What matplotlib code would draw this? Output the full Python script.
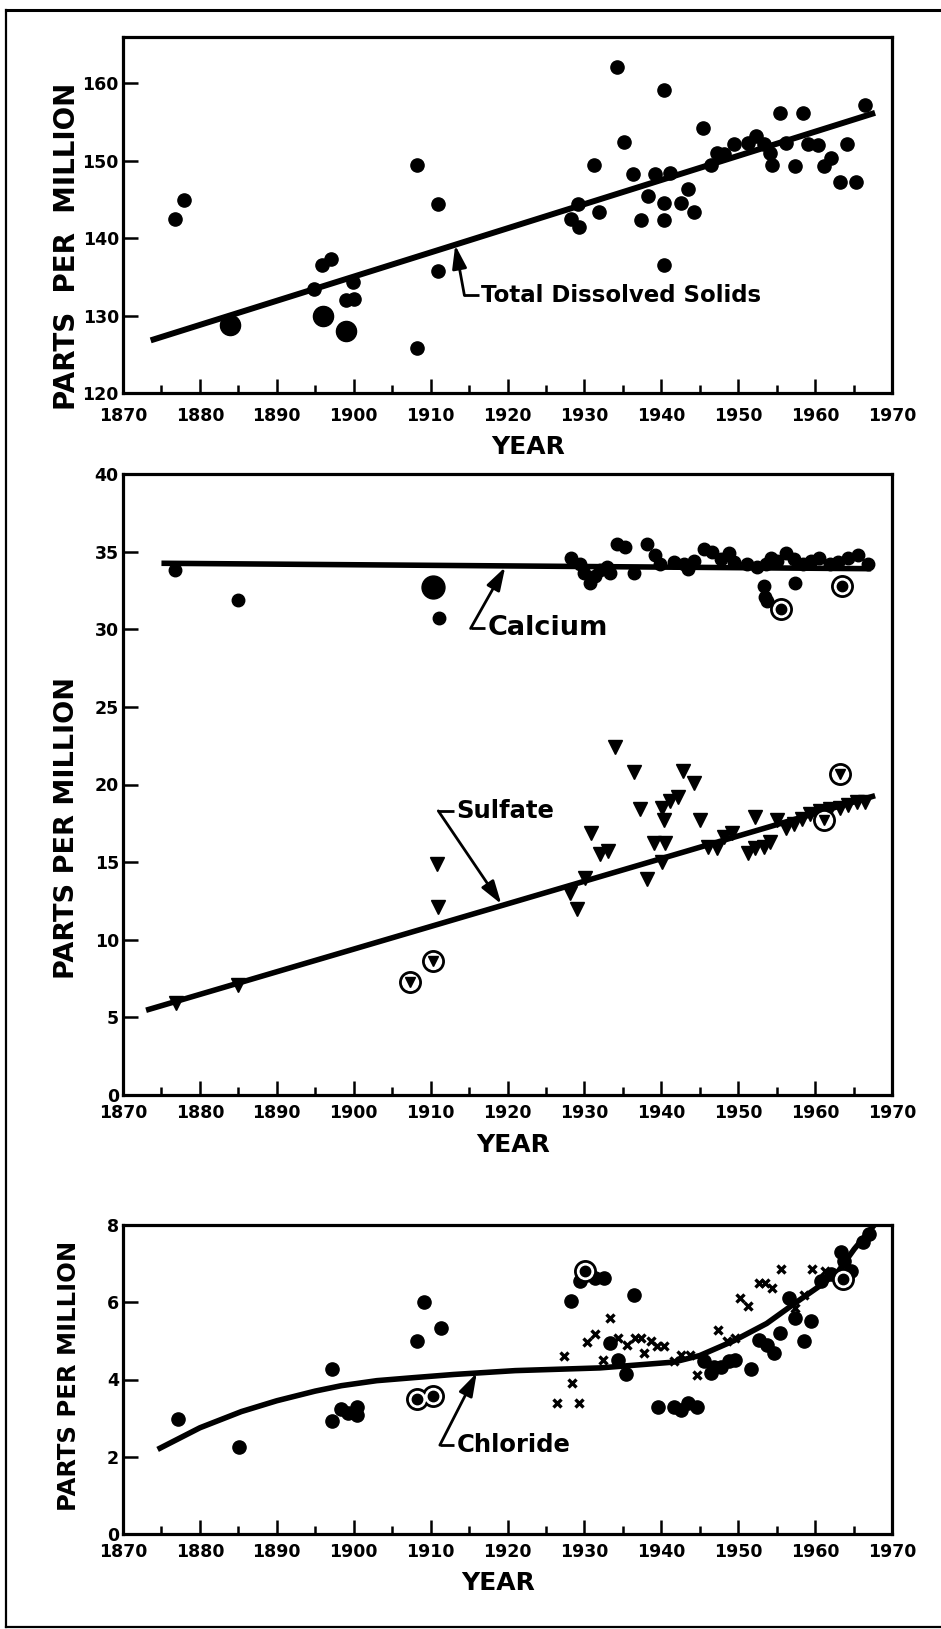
import matplotlib
matplotlib.use('Agg')
import matplotlib.pyplot as plt
from matplotlib.lines import Line2D
from matplotlib.ticker import MultipleLocator

plt.rcParams['font.family'] = ['DejaVu Sans']
plt.rcParams['font.weight'] = 'bold'

# ---------------- data ----------------
# Total dissolved solids
tds_years = [1876.7, 1877.9, 1894.9, 1895.9, 1897.0, 1899.9, 1899.0, 1900.1, 1908.2, 1908.2,
             1911.0, 1911.0, 1928.2, 1929.2, 1929.3, 1931.3, 1931.9, 1934.2, 1935.2, 1936.3,
             1937.4, 1938.3, 1939.2, 1940.3, 1940.3, 1940.3, 1940.3, 1941.1, 1942.5, 1943.5,
             1944.3, 1945.4, 1946.4, 1947.2, 1948.2, 1949.4, 1951.3, 1952.3, 1953.4, 1954.2,
             1954.4, 1955.4, 1956.2, 1957.4, 1958.4, 1959.1, 1960.4, 1961.1, 1962.1, 1963.2,
             1964.2, 1965.3, 1966.5]
tds_values = [142.5, 145.0, 133.5, 136.5, 137.3, 134.4, 132.0, 132.1, 149.5, 125.8,
              144.4, 135.7, 142.5, 144.4, 141.5, 149.4, 143.4, 162.1, 152.4, 148.3,
              142.4, 145.5, 148.3, 159.1, 144.6, 142.4, 136.5, 148.4, 144.5, 146.3,
              143.4, 154.3, 149.5, 151.0, 150.9, 152.2, 152.3, 153.2, 152.2, 151.0,
              149.4, 156.2, 152.3, 149.3, 156.2, 152.2, 152.0, 149.3, 150.4, 147.3,
              152.2, 147.3, 157.2]
tds_big_years = [1883.9, 1896.0, 1899.0]
tds_big_values = [128.8, 129.9, 128.0]
tds_fit_years = [1873.6, 1967.8]
tds_fit_values = [126.8, 156.2]

# Calcium
ca_years = [1876.7, 1884.9, 1911.1, 1928.3, 1929.4, 1930.0, 1930.7, 1931.4, 1932.0, 1932.9,
            1933.3, 1934.2, 1935.3, 1936.5, 1938.1, 1939.2, 1939.8, 1941.6, 1942.9, 1943.5,
            1944.2, 1945.5, 1946.6, 1947.7, 1948.8, 1949.4, 1951.2, 1952.5, 1953.6, 1954.3,
            1955.1, 1956.2, 1957.3, 1958.4, 1959.5, 1960.5, 1961.9, 1963.0, 1964.3, 1965.6,
            1966.9, 1953.3, 1953.5, 1953.8, 1957.4]
ca_values = [33.8, 31.9, 30.7, 34.6, 34.2, 33.6, 33.0, 33.4, 33.8, 34.0,
             33.6, 35.5, 35.3, 33.6, 35.5, 34.8, 34.2, 34.3, 34.2, 33.9,
             34.4, 35.2, 35.0, 34.5, 34.9, 34.3, 34.2, 34.0, 34.2, 34.6,
             34.4, 34.9, 34.5, 34.2, 34.4, 34.6, 34.2, 34.3, 34.6, 34.8,
             34.2, 32.8, 32.1, 31.8, 33.0]
ca_big_years = [1910.3]
ca_big_values = [32.75]
ca_circled_years = [1955.6, 1963.5]
ca_circled_values = [31.3, 32.8]
ca_fit_years = [1875.0, 1967.3]
ca_fit_values = [34.25, 33.9]

# Sulfate
so4_years = [1876.9, 1884.9, 1910.8, 1910.9, 1928.1, 1929.1, 1930.1, 1930.9, 1932.0, 1933.1,
             1934.0, 1936.4, 1937.2, 1938.1, 1939.1, 1940.1, 1940.3, 1940.5, 1940.1, 1941.1,
             1942.2, 1942.8, 1944.3, 1945.0, 1946.1, 1947.2, 1948.1, 1949.2, 1951.3, 1952.2,
             1952.2, 1953.3, 1954.2, 1955.1, 1956.2, 1957.2, 1958.3, 1959.4, 1960.7, 1961.9,
             1963.2, 1964.3, 1965.4, 1966.5]
so4_values = [5.95, 7.1, 14.9, 12.1, 13.0, 11.97, 14.0, 16.85, 15.5, 15.7,
              22.4, 20.8, 18.4, 13.9, 16.2, 18.5, 17.7, 16.2, 15.0, 18.95,
              19.2, 20.9, 20.1, 17.7, 16.0, 15.9, 16.65, 16.9, 15.6, 17.9,
              15.9, 16.0, 16.3, 17.7, 17.2, 17.45, 17.8, 18.1, 18.3, 18.4,
              18.5, 18.7, 18.85, 18.85]
so4_circled_years = [1907.3, 1910.3, 1961.2, 1963.2]
so4_circled_values = [7.25, 8.6, 17.7, 20.7]
so4_fit_years = [1873.0, 1967.8]
so4_fit_values = [5.46, 19.28]

# Chloride
cl_dot_years = [1877.1, 1885.1, 1897.2, 1897.2, 1898.4, 1899.3, 1900.4, 1900.4, 1908.2, 1909.2,
                1911.3, 1928.3, 1929.4, 1931.4, 1932.5, 1933.3, 1934.4, 1935.4, 1936.4, 1939.6,
                1941.6, 1942.6, 1943.5, 1944.6, 1945.5, 1946.4, 1946.8, 1947.7, 1948.8, 1949.6,
                1951.6, 1952.7, 1953.8, 1954.6, 1955.5, 1956.6, 1957.4, 1958.6, 1959.5, 1960.8,
                1962.1, 1963.4, 1963.8, 1964.7, 1966.2, 1967.0]
cl_dot_values = [2.97, 2.26, 4.28, 2.92, 3.23, 3.12, 3.30, 3.08, 4.99, 6.00,
                 5.33, 6.03, 6.55, 6.64, 6.64, 4.95, 4.51, 4.14, 6.18, 3.30,
                 3.28, 3.22, 3.39, 3.30, 4.47, 4.16, 4.33, 4.33, 4.47, 4.51,
                 4.27, 5.03, 4.90, 4.69, 5.21, 6.12, 5.60, 4.99, 5.51, 6.55,
                 6.72, 7.29, 7.07, 6.81, 7.55, 7.77]
cl_circled_years = [1908.2, 1910.3, 1930.1, 1963.6]
cl_circled_values = [3.49, 3.58, 6.81, 6.60]
cl_x_years = [1927.3, 1928.4, 1926.4, 1929.3, 1930.3, 1931.4, 1933.3, 1932.4, 1934.4, 1935.5,
              1936.6, 1937.4, 1937.7, 1938.6, 1939.4, 1940.3, 1941.6, 1942.6, 1943.7, 1944.6,
              1947.4, 1948.5, 1949.6, 1950.2, 1951.3, 1952.7, 1953.5, 1954.4, 1955.6, 1957.4,
              1958.5, 1959.6, 1961.3]
cl_x_values = [4.60, 3.91, 3.40, 3.40, 4.96, 5.17, 5.60, 4.51, 5.08, 4.90,
               5.08, 5.08, 4.69, 4.99, 4.86, 4.86, 4.47, 4.64, 4.64, 4.12,
               5.29, 4.99, 5.08, 6.12, 5.90, 6.51, 6.49, 6.38, 6.87, 5.86,
               6.18, 6.87, 6.81]
cl_fit_years = [1874.5, 1880.0, 1885.4, 1890.0, 1895.0, 1898.4, 1903.0, 1907.9, 1913.0, 1921.0,
                1932.0, 1941.6, 1945.0, 1949.4, 1953.7, 1957.2, 1960.3, 1962.9, 1965.1, 1967.7]
cl_fit_values = [2.19, 2.75, 3.17, 3.45, 3.70, 3.84, 3.97, 4.05, 4.13, 4.23,
                 4.30, 4.45, 4.62, 5.00, 5.45, 5.95, 6.38, 6.77, 7.38, 8.00]

year_ticks = list(range(1870, 1971, 10))

# ---------------- figure ----------------
W, H = 941, 1629
fig = plt.figure(figsize=(W / 100, H / 100), dpi=100)


def box(x0, y0, x1, y1):
    return [x0 / W, 1 - y1 / H, (x1 - x0) / W, (y1 - y0) / H]


def style(ax, ylim, ystep, xpad):
    ax.set_xlim(1870, 1970)
    ax.set_ylim(*ylim)
    ax.xaxis.set_major_locator(MultipleLocator(10))
    ax.xaxis.set_minor_locator(MultipleLocator(5))
    ax.yaxis.set_major_locator(MultipleLocator(ystep))
    for s in ax.spines.values():
        s.set_linewidth(2.3)
    ax.tick_params(axis='both', which='both', direction='in', width=1.8,
                   labelsize=12.5, colors='black')
    ax.tick_params(axis='x', which='major', length=10, pad=xpad)
    ax.tick_params(axis='x', which='minor', length=6)
    ax.tick_params(axis='y', which='major', length=11, pad=3)


def circled(ax, xs, ys, inner_marker, inner_ms):
    ax.plot(xs, ys, 'o', ms=15.5, color='black', zorder=4)
    ax.plot(xs, ys, 'o', ms=11.5, color='white', zorder=5)
    ax.plot(xs, ys, inner_marker, ms=inner_ms, color='black', zorder=6)


def leader(ax, text, fs, text_xy, corner_xy, tip_xy):
    ax.text(text_xy[0], text_xy[1], text, ha='left', va='center',
            fontsize=fs, fontweight='bold', zorder=7)
    ax.plot([corner_xy[0], text_xy[0] - 0.3], [corner_xy[1], corner_xy[1]],
            color='black', lw=2.0, solid_capstyle='butt', zorder=7)
    ax.annotate('', xy=tip_xy, xytext=corner_xy,
                arrowprops=dict(arrowstyle='-|>,head_length=0.7,head_width=0.22',
                                lw=2.0, color='black', shrinkA=0, shrinkB=0,
                                mutation_scale=20), zorder=7)


# Panel 1: total dissolved solids
ax1 = fig.add_axes(box(123, 37, 892, 393))
style(ax1, (120, 166), 10, 10)
ax1.plot(tds_fit_years, tds_fit_values, color='black', lw=4.3, solid_capstyle='butt', zorder=2)
ax1.plot(tds_years, tds_values, 'o', ms=9.5, color='black', zorder=3)
ax1.plot(tds_big_years, tds_big_values, 'o', ms=14.5, color='black', zorder=3)
ax1.set_yticks([120, 130, 140, 150, 160])
leader(ax1, 'Total Dissolved Solids', 16.5, (1916.6, 132.6), (1914.4, 132.6), (1913.2, 139.1))

# Panel 2: calcium and sulfate
ax2 = fig.add_axes(box(123, 474, 892, 1095))
style(ax2, (0, 40), 5, 6.5)
ax2.plot(ca_fit_years, ca_fit_values, color='black', lw=4.0, solid_capstyle='butt', zorder=2)
ax2.plot(ca_years, ca_values, 'o', ms=9.0, color='black', zorder=3)
ax2.plot(ca_big_years, ca_big_values, 'o', ms=16.5, color='black', zorder=3)
circled(ax2, ca_circled_years, ca_circled_values, 'o', 7.5)
ax2.plot(so4_fit_years, so4_fit_values, color='black', lw=4.0, solid_capstyle='butt', zorder=2)
ax2.plot(so4_years, so4_values, 'v', ms=9.5, color='black', zorder=3)
circled(ax2, so4_circled_years, so4_circled_values, 'v', 7.5)
leader(ax2, 'Calcium', 19.5, (1917.4, 30.05), (1915.2, 30.05), (1919.7, 34.0))
leader(ax2, 'Sulfate', 17.5, (1913.4, 18.3), (1911.0, 18.3), (1919.2, 12.3))

# Panel 3: chloride
ax3 = fig.add_axes(box(123, 1225, 892, 1534))
style(ax3, (0, 8), 2, 6.5)
ax3.plot(cl_fit_years, cl_fit_values, color='black', lw=4.0, solid_joinstyle='round',
         solid_capstyle='butt', zorder=2, clip_on=True)
ax3.plot(cl_dot_years, cl_dot_values, 'o', ms=9.5, color='black', zorder=3)
ax3.plot(cl_x_years, cl_x_values, 'x', ms=5.5, mew=2.4, color='black', zorder=3)
circled(ax3, cl_circled_years, cl_circled_values, 'o', 7.5)
leader(ax3, 'Chloride', 17.5, (1913.4, 2.3), (1911.2, 2.3), (1916.0, 4.17))

for ax in (ax1, ax2, ax3):
    ax.set_xticks(year_ticks)
    ax.set_xticklabels([str(y) for y in year_ticks], fontweight='bold', fontsize=12.5)
    for lab in ax.get_yticklabels():
        lab.set_fontweight('bold')

# axis titles
fig.text(67.5 / W, 1 - 246.5 / H, 'PARTS  PER  MILLION', rotation=90, ha='center', va='center',
         fontsize=20, fontweight='bold')
fig.text(67 / W, 1 - 828 / H, 'PARTS PER MILLION', rotation=90, ha='center', va='center',
         fontsize=19.5, fontweight='bold')
fig.text(69 / W, 1 - 1376 / H, 'PARTS PER MILLION', rotation=90, ha='center', va='center',
         fontsize=17.5, fontweight='bold')
fig.text(528 / W, 1 - 447 / H, 'YEAR', ha='center', va='center', fontsize=18, fontweight='bold')
fig.text(513 / W, 1 - 1145 / H, 'YEAR', ha='center', va='center', fontsize=18, fontweight='bold')
fig.text(498 / W, 1 - 1583 / H, 'YEAR', ha='center', va='center', fontsize=18, fontweight='bold')

# outer page frame (top, left, bottom)
fig.add_artist(Line2D([6 / W, 1.0], [1 - 10 / H, 1 - 10 / H], transform=fig.transFigure,
                      color='black', lw=2.2))
fig.add_artist(Line2D([6 / W, 6 / W], [1 - 10 / H, 1 - 1627 / H], transform=fig.transFigure,
                      color='black', lw=1.6))
fig.add_artist(Line2D([6 / W, 1.0], [1 - 1627 / H, 1 - 1627 / H], transform=fig.transFigure,
                      color='black', lw=1.6))

fig.savefig('out.png', dpi=100, facecolor='white')
